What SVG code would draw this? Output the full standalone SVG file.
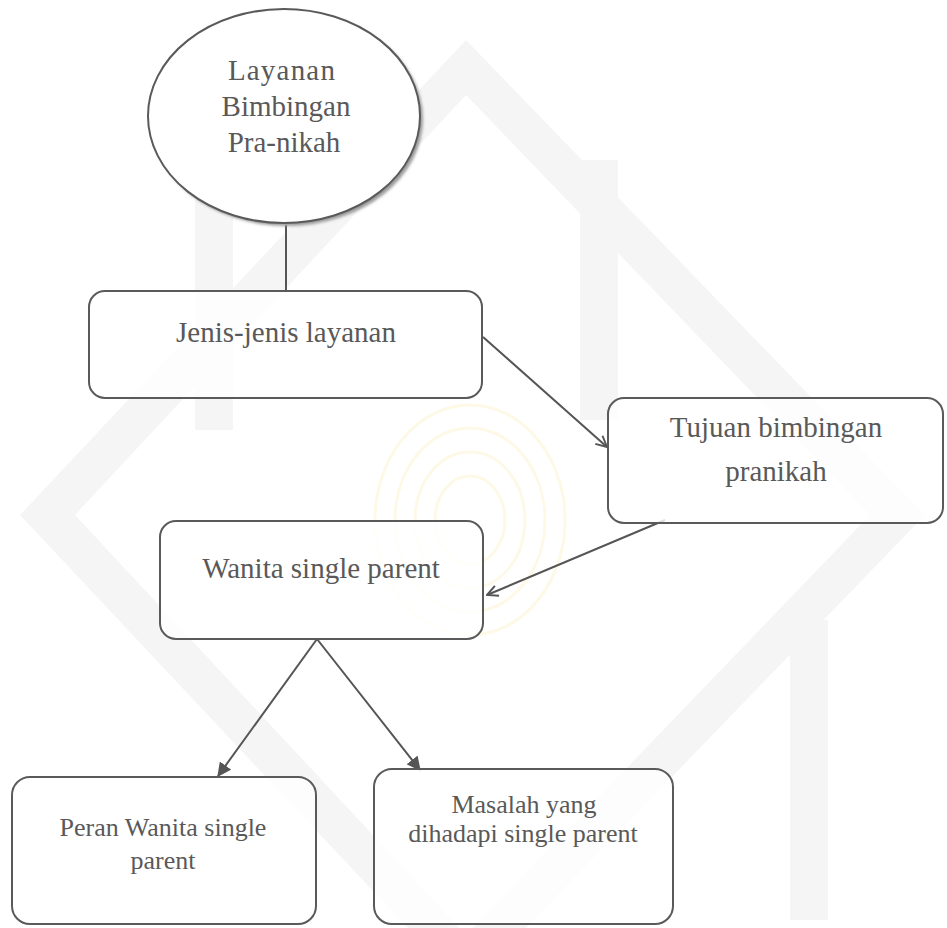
<svg xmlns="http://www.w3.org/2000/svg" width="947" height="928" viewBox="0 0 947 928">
<defs>
<style>
.node{fill:#ffffff;fill-opacity:0.8;stroke:#5a5a5a;stroke-width:2}
.oval{fill:#ffffff;stroke:#5a5a5a;stroke-width:2}
.t{font-family:"Liberation Serif","Times New Roman",serif;fill:#595959;text-anchor:middle}
.c{stroke:#555555;stroke-width:2;fill:none}
.wm{fill:#f5f5f5}
</style>
<marker id="open" viewBox="0 0 12 12" refX="11" refY="6" markerWidth="13" markerHeight="13" markerUnits="userSpaceOnUse" orient="auto">
<path d="M1,1 L11,6 L1,11" fill="none" stroke="#555555" stroke-width="1.8"/>
</marker>
<marker id="solid" viewBox="0 0 12 12" refX="11" refY="6" markerWidth="14" markerHeight="14" markerUnits="userSpaceOnUse" orient="auto">
<path d="M0,0 L12,6 L0,12 Z" fill="#555555"/>
</marker>
<filter id="sh" x="-10%" y="-10%" width="130%" height="130%">
<feGaussianBlur stdDeviation="1.5"/>
</filter>
</defs>
<rect width="947" height="928" fill="#ffffff"/>
<g id="watermark">
<path d="M466,40 L925,515 L466,990 L20,515 Z M466,95 L75,515 L466,935 L870,515 Z" class="wm" fill-rule="evenodd"/>
<rect x="195" y="200" width="38" height="230" class="wm"/>
<rect x="580" y="160" width="38" height="260" class="wm"/>
<rect x="790" y="620" width="38" height="300" class="wm"/>
<g fill="none" stroke="#fdf9e6" stroke-width="3">
<ellipse cx="470" cy="520" rx="95" ry="115"/>
<ellipse cx="470" cy="520" rx="75" ry="92"/>
<ellipse cx="470" cy="520" rx="55" ry="68"/>
<ellipse cx="470" cy="520" rx="35" ry="44"/>
</g>
</g>
<g id="connectors">
<line class="c" x1="286" y1="225" x2="286" y2="291"/>
<line class="c" x1="483" y1="337" x2="607" y2="447" marker-end="url(#open)"/>
<line class="c" x1="665" y1="520" x2="487" y2="595" marker-end="url(#open)"/>
<line class="c" x1="317" y1="639" x2="218" y2="776" marker-end="url(#solid)"/>
<line class="c" x1="317" y1="639" x2="420" y2="770" marker-end="url(#solid)"/>
</g>
<g id="n-layanan">
<ellipse cx="287" cy="119" rx="136" ry="107" fill="#9a9a9a" filter="url(#sh)"/>
<ellipse class="oval" cx="284" cy="116" rx="136" ry="107"/>
<text class="t" font-size="29" x="282" y="80" letter-spacing="1.2">Layanan</text>
<text class="t" font-size="29" x="286" y="116">Bimbingan</text>
<text class="t" font-size="29" x="284" y="152">Pra-nikah</text>
</g>
<g id="n-jenis">
<rect class="node" x="89" y="291" width="393" height="107" rx="16"/>
<text class="t" font-size="29" x="286" y="342">Jenis-jenis layanan</text>
</g>
<g id="n-tujuan">
<rect class="node" x="608" y="398" width="335" height="125" rx="16"/>
<text class="t" font-size="29" x="776" y="437">Tujuan bimbingan</text>
<text class="t" font-size="29" x="776" y="481">pranikah</text>
</g>
<g id="n-wanita">
<rect class="node" x="160" y="521" width="323" height="118" rx="16"/>
<text class="t" font-size="29" x="321" y="578">Wanita single parent</text>
</g>
<g id="n-peran">
<rect class="node" x="12" y="777" width="304" height="147" rx="18"/>
<text class="t" font-size="26" x="163" y="836">Peran Wanita single</text>
<text class="t" font-size="26" x="163" y="869">parent</text>
</g>
<g id="n-masalah">
<rect class="node" x="374" y="769" width="299" height="155" rx="18"/>
<text class="t" font-size="26" x="524" y="813">Masalah yang</text>
<text class="t" font-size="26" x="523" y="842">dihadapi single parent</text>
</g>
</svg>
